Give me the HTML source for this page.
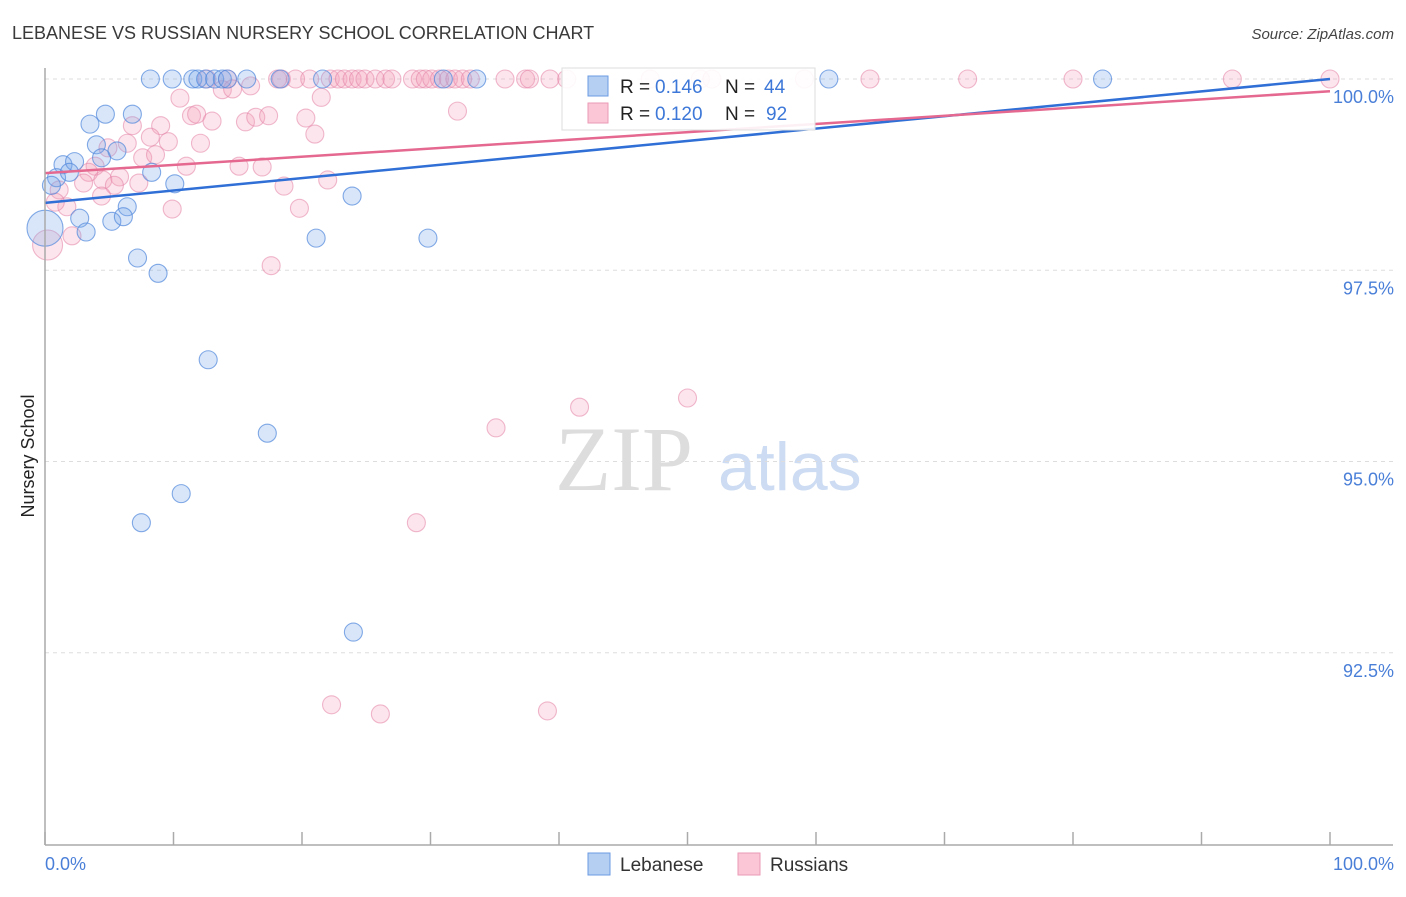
<!DOCTYPE html>
<html><head><meta charset="utf-8"><style>
body{margin:0;background:#fff;font-family:"Liberation Sans",sans-serif}
</style></head><body>
<svg width="1406" height="892" xmlns="http://www.w3.org/2000/svg" id="svg" font-family="Liberation Sans, sans-serif">
<text x="12" y="39" font-size="18" fill="#3a3a3a">LEBANESE VS RUSSIAN NURSERY SCHOOL CORRELATION CHART</text>
<text x="1394" y="39" font-size="15" fill="#444" text-anchor="end" font-style="italic">Source: ZipAtlas.com</text>
<text x="555" y="490" font-size="92" fill="#ddd" font-family="Liberation Serif, serif">ZIP</text>
<text x="718" y="490" font-size="68" fill="#cddcf2">atlas</text>
<text transform="translate(34,456) rotate(-90)" font-size="18" fill="#222" text-anchor="middle">Nursery School</text>
<g id="grid"></g><g id="pts"></g><g id="trend"></g>
<line x1="45" y1="68" x2="45" y2="845" stroke="#aaa" stroke-width="1.5"/>
<line x1="45" y1="845" x2="1393" y2="845" stroke="#aaa" stroke-width="1.5"/>
<text x="45" y="870" font-size="18" fill="#4a7fd8">0.0%</text>
<text x="1394" y="870" font-size="18" fill="#4a7fd8" text-anchor="end">100.0%</text>
<g>
<rect x="562" y="68" width="253" height="62" fill="#fff" fill-opacity="0.9" stroke="#ddd"/>
<rect x="588" y="76" width="20" height="20" fill="#b5cff3" stroke="#6b9be0"/>
<text x="620" y="93" font-size="19" fill="#222">R =</text><text x="655" y="93" font-size="19" fill="#3d78d8">0.146</text>
<text x="725" y="93" font-size="19" fill="#222">N =</text><text x="764" y="93" font-size="19" fill="#3d78d8">44</text>
<rect x="588" y="103" width="20" height="20" fill="#fbc6d6" stroke="#ea9ab5"/>
<text x="620" y="120" font-size="19" fill="#222">R =</text><text x="655" y="120" font-size="19" fill="#3d78d8">0.120</text>
<text x="725" y="120" font-size="19" fill="#222">N =</text><text x="766" y="120" font-size="19" fill="#3d78d8">92</text>
</g>
<g><rect x="588" y="853" width="22" height="22" fill="#b5cff3" stroke="#6b9be0"/><text x="620" y="871" font-size="19" fill="#333">Lebanese</text></g>
<g><rect x="738" y="853" width="22" height="22" fill="#fbc6d6" stroke="#ea9ab5"/><text x="770" y="871" font-size="19" fill="#333">Russians</text></g>
</svg>
<script>
const yTicks=[100,97.5,95,92.5];
const yTickLabels=["100.0%","97.5%","95.0%","92.5%"];
const xTicks=[0,10,20,30,40,50,60,70,80,90,100];
const lebX=[8.2,9.9,11.5,11.9,12.5,13.2,13.8,14.2,15.7,18.3,21.6,31.0,33.6,61.0,82.3,4.7,6.8,3.5,4.0,5.6,4.4,1.4,2.3,0.9,1.9,0.5,8.3,10.1,23.9,6.4,2.7,5.2,6.1,3.2,21.1,29.8,0,7.2,8.8,12.7,17.3,10.6,7.5,24.0];
const lebY=[100,100,100,100,100,100,100,100,100,100,100,100,100,100,100,99.54,99.54,99.41,99.14,99.06,98.97,98.88,98.92,98.71,98.78,98.61,98.78,98.63,98.47,98.33,98.18,98.14,98.20,98.0,97.92,97.92,98.05,97.66,97.46,96.33,95.37,94.58,94.20,92.77];
const lebBig=[36];
const rusX=[12.6,14.2,18.1,18.4,19.5,20.6,22.2,22.8,23.3,23.9,24.4,24.9,25.7,26.5,27.0,28.6,29.2,29.6,30.1,30.7,31.4,31.9,32.5,33.1,35.8,37.4,37.7,39.3,40.6,47.1,51.0,51.9,59.1,64.2,71.8,80.0,92.4,100,
10.5,13.8,14.6,16.0,21.5,32.1,11.4,11.8,13.0,15.6,16.4,17.4,20.3,6.8,9.0,21.0,8.2,9.6,12.1,6.4,4.9,7.6,8.6,11.0,15.1,16.9,3.9,3.4,5.8,4.5,3.0,5.4,7.3,18.6,22.0,1.1,1.7,4.4,9.9,19.8,0.8,2.1,0.2,17.6,50.0,41.6,35.1,28.9,22.3,26.1,39.1];
const rusY=[100,100,100,100,100,100,100,100,100,100,100,100,100,100,100,100,100,100,100,100,100,100,100,100,100,100,100,100,100,100,100,100,100,100,100,100,100,100,
99.75,99.86,99.87,99.91,99.76,99.58,99.52,99.54,99.45,99.44,99.50,99.52,99.49,99.39,99.39,99.28,99.24,99.18,99.16,99.16,99.10,98.97,99.01,98.86,98.86,98.85,98.86,98.78,98.72,98.68,98.64,98.61,98.64,98.60,98.68,98.55,98.33,98.47,98.30,98.31,98.39,97.95,97.83,97.56,95.83,95.71,95.44,94.20,91.82,91.70,91.74];
const rusBig=[80];
const lebTrend=[98.38,100.0];
const rusTrend=[98.77,99.84];
const X=v=>45+v*12.85, Y=v=>79+(100-v)*76.5;
const NS="http://www.w3.org/2000/svg";
function mk(t,a,p){const e=document.createElementNS(NS,t);for(const k in a)e.setAttribute(k,a[k]);p.appendChild(e);return e;}
const g=document.getElementById('grid');
yTicks.forEach((t,i)=>{
 const l=mk('line',{x1:45,x2:1393,y1:Y(t),y2:Y(t),stroke:'#ddd','stroke-dasharray':'4,4'},g);
 
 
 const tx=mk('text',{x:1394,y:Y(t)+24,'font-size':18,fill:'#4a7fd8','text-anchor':'end'},g);
 tx.textContent=yTickLabels[i];
 
 
});
xTicks.forEach(t=>{
 const l=mk('line',{x1:X(t),x2:X(t),y1:832,y2:845,stroke:'#aaa','stroke-width':1.5},g);
 
 
});
const p=document.getElementById('pts');
rusX.forEach((x,i)=>{
 const c=mk('circle',{cx:X(x),cy:Y(rusY[i]),r:rusBig.includes(i)?15:9,fill:'rgba(246,160,188,0.28)',stroke:'rgba(228,130,165,0.55)','stroke-width':1.1},p);
 
 
});
lebX.forEach((x,i)=>{
 const c=mk('circle',{cx:X(x),cy:Y(lebY[i]),r:lebBig.includes(i)?18:9,fill:'rgba(120,165,235,0.28)',stroke:'rgba(80,135,220,0.7)','stroke-width':1.1},p);
 
 
});
const tr=document.getElementById('trend');
const a=mk('line',{x1:X(0),x2:X(100),y1:Y(lebTrend[0]),y2:Y(lebTrend[1]),stroke:'#2f6fd6','stroke-width':2.5},tr);


const b=mk('line',{x1:X(0),x2:X(100),y1:Y(rusTrend[0]),y2:Y(rusTrend[1]),stroke:'#e4688f','stroke-width':2.5},tr);


</script>
</body></html>
